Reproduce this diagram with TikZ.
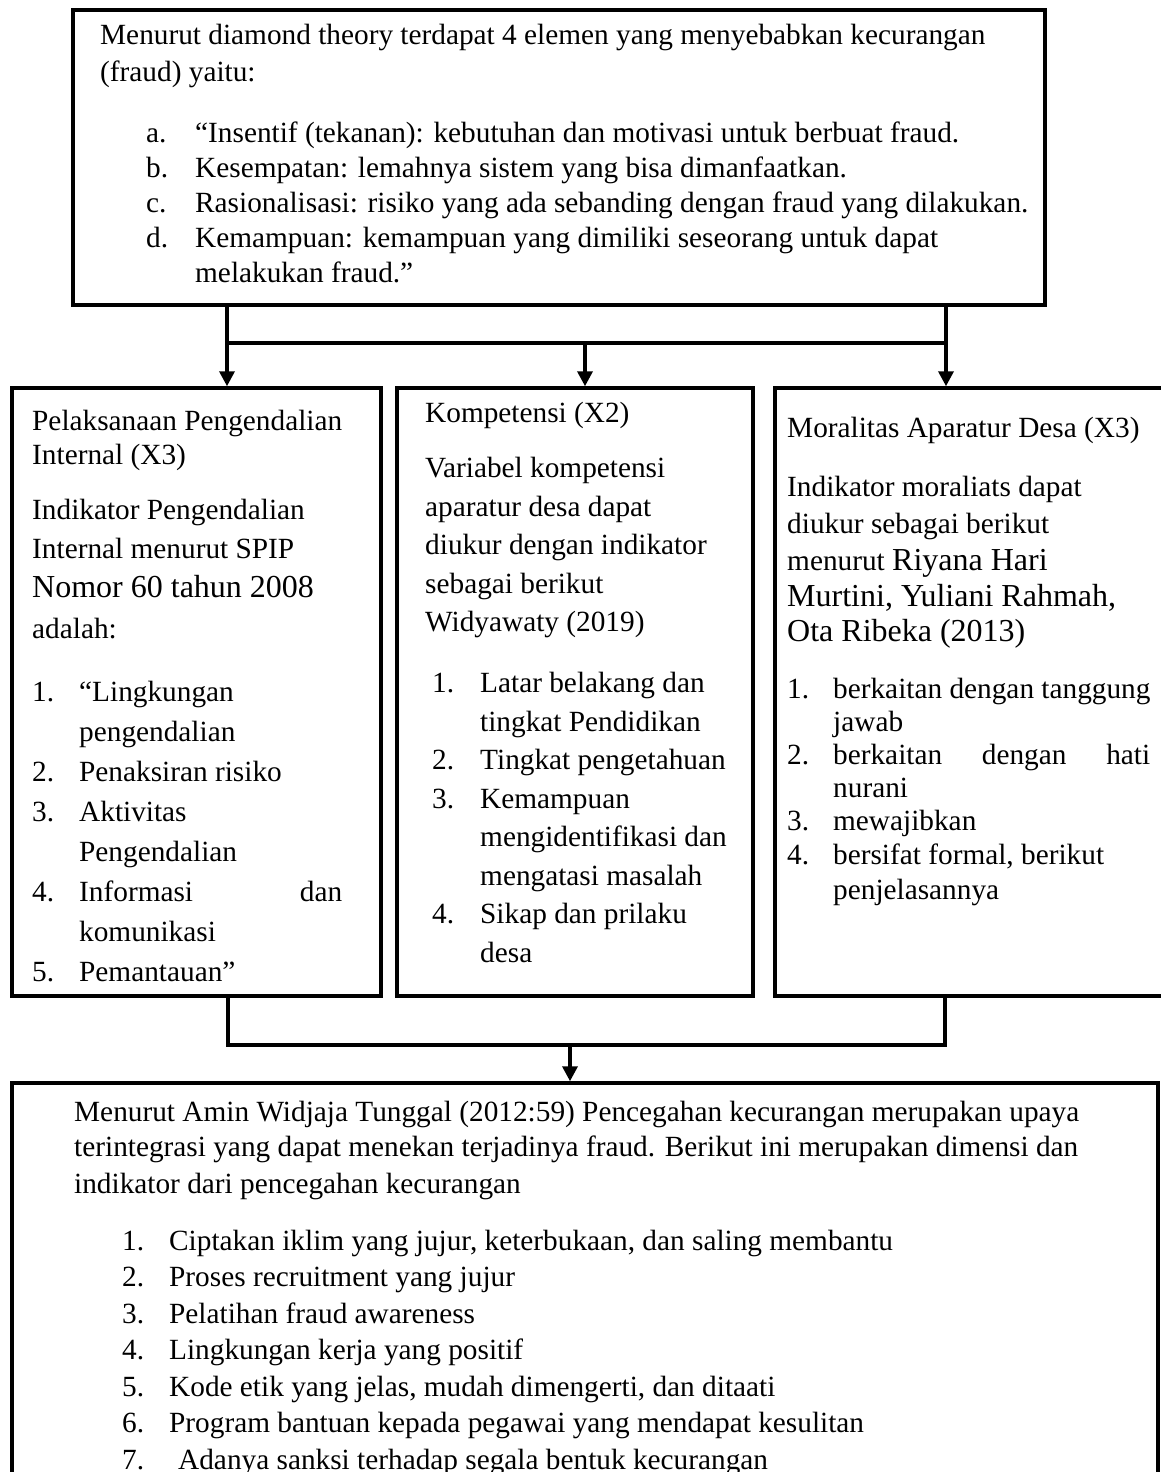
\documentclass[tikz,border=0pt]{standalone}
\usepackage{fontspec}
\setmainfont{Liberation Serif}
\usetikzlibrary{arrows.meta}

\newcommand{\besar}{\fontsize{32}{36}\selectfont}
\newcommand{\nomor}[2]{\makebox[#1][l]{#2}}

\begin{document}
\begin{tikzpicture}[x=1pt, y=1pt,
    box/.style={draw, line width=3.5pt, inner sep=0pt, outer sep=0pt, anchor=north west},
    teks/.style={anchor=base west, align=left, inner sep=0pt, font=\fontsize{29.3}{#1}\selectfont},
    garis/.style={line width=3.5pt},
    panah/.style={line width=3.5pt, -{Triangle[length=15pt, width=15pt]}, shorten >=1.75pt}]
    \useasboundingbox (0,0) rectangle (1161,-1472);
    \clip (0,0) rectangle (1161,-1472);

    % kotak-kotak
    \node[box, minimum width=972, minimum height=295] (teori) at (73,-10) {};
    \node[box, minimum width=369, minimum height=608] (spi) at (12,-388) {};
    \node[box, minimum width=356, minimum height=608] (komp) at (397,-388) {};
    \node[box, minimum width=400, minimum height=608] (moral) at (775,-388) {};
    \node[box, minimum width=1146, minimum height=450] (cegah) at (12,-1083) {};

    % isi kotak (base = baris terakhir)
    \node[teks=35] (teori-isi) at (100,-282) {Menurut diamond theory terdapat 4 elemen yang menyebabkan kecurangan\\[2pt]
        (fraud) yaitu:\\[26pt]
        \hspace*{46pt}\nomor{49pt}{a.}“Insentif (tekanan): kebutuhan dan motivasi untuk berbuat fraud.\\
        \hspace*{46pt}\nomor{49pt}{b.}Kesempatan: lemahnya sistem yang bisa dimanfaatkan.\\
        \hspace*{46pt}\nomor{49pt}{c.}Rasionalisasi: risiko yang ada sebanding dengan fraud yang dilakukan.\\
        \hspace*{46pt}\nomor{49pt}{d.}Kemampuan: kemampuan yang dimiliki seseorang untuk dapat\\
        \hspace*{95pt}melakukan fraud.”};

    \node[teks=40] (spi-isi) at (32,-981) {Pelaksanaan Pengendalian\\[-5.5pt]
        Internal (X3)\\[15pt]
        Indikator Pengendalian\\[-1.6pt]
        Internal menurut SPIP\\[-1pt]
        {\besar Nomor 60 tahun 2008}\\[1pt]
        adalah:\\[23pt]
        \nomor{47pt}{1.}“Lingkungan\\
        \hspace*{47pt}pengendalian\\
        \nomor{47pt}{2.}Penaksiran risiko\\
        \nomor{47pt}{3.}Aktivitas\\
        \hspace*{47pt}Pengendalian\\
        \nomor{47pt}{4.}\makebox[263pt][l]{Informasi\hfill dan}\\
        \hspace*{47pt}komunikasi\\
        \nomor{47pt}{5.}Pemantauan”};

    \node[teks=38.5] (komp-isi) at (425,-962) {Kompetensi (X2)\\[16.5pt]
        Variabel kompetensi\\
        aparatur desa dapat\\
        diukur dengan indikator\\
        sebagai berikut\\
        Widyawaty (2019)\\[22.5pt]
        \hspace*{7pt}\nomor{48pt}{1.}Latar belakang dan\\
        \hspace*{55pt}tingkat Pendidikan\\
        \hspace*{7pt}\nomor{48pt}{2.}Tingkat pengetahuan\\
        \hspace*{7pt}\nomor{48pt}{3.}Kemampuan\\
        \hspace*{55pt}mengidentifikasi dan\\
        \hspace*{55pt}mengatasi masalah\\
        \hspace*{7pt}\nomor{48pt}{4.}Sikap dan prilaku\\
        \hspace*{55pt}desa};

    \node[teks=36] (moral-isi) at (787,-899) {Moralitas Aparatur Desa (X3)\\[23pt]
        Indikator moraliats dapat\\[1pt]
        diukur sebagai berikut\\[1pt]
        menurut {\besar Riyana Hari}\\
        {\besar Murtini, Yuliani Rahmah,}\\[-1pt]
        {\besar Ota Ribeka (2013)}\\[21pt]
        \nomor{46pt}{1.}berkaitan dengan tanggung\\[-3pt]
        \hspace*{46pt}jawab\\[-3pt]
        \nomor{46pt}{2.}\makebox[317pt][s]{berkaitan dengan hati}\\[-3pt]
        \hspace*{46pt}nurani\\[-3pt]
        \nomor{46pt}{3.}mewajibkan\\[-2pt]
        \nomor{46pt}{4.}bersifat formal, berikut\\[-1pt]
        \hspace*{46pt}penjelasannya};

    \node[teks=36.5] (cegah-isi) at (74,-1469) {Menurut Amin Widjaja Tunggal (2012:59) Pencegahan kecurangan merupakan upaya\\[-1pt]
        terintegrasi yang dapat menekan terjadinya fraud. Berikut ini merupakan dimensi dan\\
        indikator dari pencegahan kecurangan\\[20.5pt]
        \hspace*{48pt}\nomor{47pt}{1.}Ciptakan iklim yang jujur, keterbukaan, dan saling membantu\\
        \hspace*{48pt}\nomor{47pt}{2.}Proses recruitment yang jujur\\
        \hspace*{48pt}\nomor{47pt}{3.}Pelatihan fraud awareness\\
        \hspace*{48pt}\nomor{47pt}{4.}Lingkungan kerja yang positif\\
        \hspace*{48pt}\nomor{47pt}{5.}Kode etik yang jelas, mudah dimengerti, dan ditaati\\
        \hspace*{48pt}\nomor{47pt}{6.}Program bantuan kepada pegawai yang mendapat kesulitan\\
        \hspace*{48pt}\nomor{56pt}{7.}Adanya sanksi terhadap segala bentuk kecurangan};

    % panah atas
    \coordinate (cabangkiri) at (227,-343);
    \coordinate (cabang) at (585,-343);
    \coordinate (cabangkanan) at (946,-343);
    \draw[garis] (cabangkiri) -- (cabangkanan);
    \draw[panah] (teori.south -| cabangkiri) -- (spi.north -| cabangkiri);
    \draw[panah] (teori.south -| cabangkanan) -- (moral.north -| cabangkanan);
    \draw[panah] (cabang) -- (komp.north -| cabang);

    % panah bawah
    \coordinate (gabungkiri) at (228,-1045);
    \coordinate (gabung) at (570,-1045);
    \coordinate (gabungkanan) at (945,-1045);
    \draw[garis] (spi.south -| gabungkiri) -- (gabungkiri) -- (gabungkanan) -- (moral.south -| gabungkanan);
    \draw[panah] (gabung) -- (cegah.north -| gabung);
\end{tikzpicture}
\end{document}
